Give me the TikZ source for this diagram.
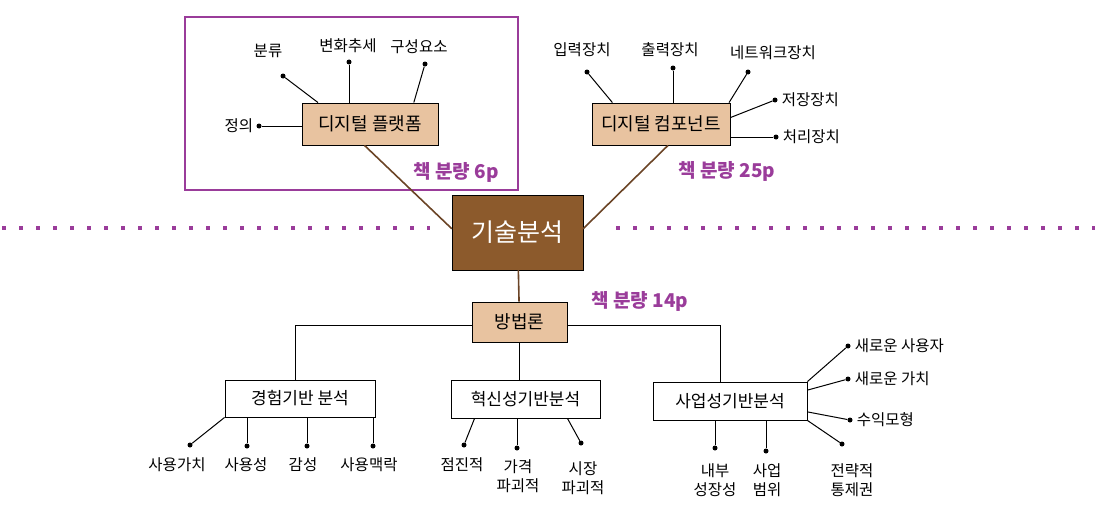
\documentclass[tikz,border=0pt]{standalone}
\usepackage{fontspec}
\setmainfont{Noto Sans CJK KR}
\usepackage{tikz}
\usetikzlibrary{arrows.meta,positioning,calc}
\definecolor{purp}{HTML}{9A3C9A}
\definecolor{bark}{HTML}{8C5A2C}
\definecolor{tan}{HTML}{E8C3A0}
\definecolor{twig}{HTML}{6B4426}

\begin{document}
\begin{tikzpicture}[x=1pt,y=-1pt, every node/.style={font=\fontsize{15.5}{19}\selectfont},
  top/.style={draw,fill=bark,text=white,minimum width=131pt,minimum height=75pt,font=\fontsize{25}{28}\selectfont},
  mid/.style={draw,fill=tan,line width=0.9pt,font=\fontsize{18}{20}\selectfont},
  low/.style={draw,fill=white,line width=0.9pt,font=\fontsize{17}{19}\selectfont},
  dot/.style={circle,fill,inner sep=0pt,minimum size=5pt},
  leaf/.style={align=center,inner sep=1pt},
  pages/.style={text=purp,font=\bfseries\fontsize{19}{22}\selectfont}]
\useasboundingbox (0,0) rectangle (1099,527);
% upper part, framed
\draw[purp,line width=2pt] (185,17) rectangle (518,190);
\draw[purp,line width=4pt,dash pattern=on 4pt off 13pt] (2,228) -- (430,228);
\draw[purp,line width=4pt,dash pattern=on 4pt off 13pt] (616,228) -- (1095,228);
\node[top] (core) at (517.5,232.5) {기술분석};
\node[mid,minimum width=136pt,minimum height=42pt] (plat) at (370,124) {디지털 플랫폼};
\node[mid,minimum width=138pt,minimum height=42pt] (comp) at (661,124) {디지털 컴포넌트};
\node[mid,minimum width=95pt,minimum height=40pt] (meth) at (519.5,322) {방법론};
\draw[twig,line width=1.6pt] ($(plat.south west)!0.46!(plat.south east)$) -- ($(core.north west)!0.45!(core.south west)$);
\draw[twig,line width=1.6pt] ($(comp.south west)!0.55!(comp.south east)$) -- ($(core.north east)!0.45!(core.south east)$);
\draw[twig,line width=1.6pt] (core) -- (meth);
\node[pages] (p6) at (456,172) {책 분량 6p};
\node[pages] (p25) at (727,171) {책 분량 25p};
\node[pages] (p14) at (640,301) {책 분량 14p};
% platform leaves
\node[dot] (d11) at (259,126) {};
\node[dot] (d12) at (283,76) {};
\node[dot] (d13) at (349,62) {};
\node[dot] (d14) at (425,64) {};
\node[leaf,left=2pt of d11] (l11) {정의};
\node[leaf] (l12) at (268,51) {분류};
\node[leaf] (l13) at (348,46) {변화추세};
\node[leaf] (l14) at (419,47) {구성요소};
\draw[line width=1pt] (d11) -- (d11 -| plat.west);
\draw[line width=1pt] (d12) -- ($(plat.north west)!0.12!(plat.north east)$);
\draw[line width=1pt] (d13) -- (d13 |- plat.north);
\draw[line width=1pt] (d14) -- ($(plat.north west)!0.82!(plat.north east)$);
% component leaves
\node[dot] (d21) at (587,72) {};
\node[dot] (d22) at (673,68) {};
\node[dot] (d23) at (748,72) {};
\node[dot] (d24) at (775,100) {};
\node[dot] (d25) at (776,137) {};
\node[leaf] (l21) at (582,50) {입력장치};
\node[leaf] (l22) at (670,50) {출력장치};
\node[leaf] (l23) at (773,53) {네트워크장치};
\node[leaf,right=3pt of d24] (l24) {저장장치};
\node[leaf,right=3pt of d25] (l25) {처리장치};
\draw[line width=1pt] (d21) -- ($(comp.north west)!0.15!(comp.north east)$);
\draw[line width=1pt] (d22) -- (d22 |- comp.north);
\draw[line width=1pt] (d23) -- ($(comp.north west)!0.99!(comp.north east)$);
\draw[line width=1pt] (d24) -- ($(comp.north east)!0.35!(comp.south east)$);
\draw[line width=1pt] (d25) -- (d25 -| comp.east);
% method branches
\node[low,minimum width=150pt,minimum height=37pt] (expe) at (300,398.5) {경험기반 분석};
\node[low,minimum width=149pt,minimum height=38pt] (inno) at (525.5,399) {혁신성기반분석};
\node[low,minimum width=154pt,minimum height=38pt] (biz) at (730,401) {사업성기반분석};
\coordinate (lj) at (295,325);
\coordinate (rj) at (720,325);
\draw[line width=1pt] (meth.west |- lj) -- (lj) -- (lj |- expe.north);
\draw[line width=1pt] (meth.east |- rj) -- (rj) -- (rj |- biz.north);
\draw[line width=1pt] (meth.south) -- (meth.south |- inno.north);
% experience leaves
\node[dot] (d31) at (190,445) {};
\node[dot] (d32) at (247,446) {};
\node[dot] (d33) at (307,446) {};
\node[dot] (d34) at (373,446) {};
\node[leaf] (l31) at (177,465) {사용가치};
\node[leaf] (l32) at (246,465) {사용성};
\node[leaf] (l33) at (303,465) {감성};
\node[leaf] (l34) at (369,465) {사용맥락};
\draw[line width=1pt] (d31) -- (expe.south west);
\draw[line width=1pt] (d32) -- (d32 |- expe.south);
\draw[line width=1pt] (d33) -- (d33 |- expe.south);
\draw[line width=1pt] (d34) -- (d34 |- expe.south);
% innovation leaves
\node[dot] (d41) at (464,445) {};
\node[dot] (d42) at (517,448) {};
\node[dot] (d43) at (581,443) {};
\node[leaf] (l41) at (462,465) {점진적};
\node[leaf] (l42) at (518,476) {가격\\파괴적};
\node[leaf] (l43) at (583,478) {시장\\파괴적};
\draw[line width=1pt] (d41) -- ($(inno.south west)!0.16!(inno.south east)$);
\draw[line width=1pt] (d42) -- (d42 |- inno.south);
\draw[line width=1pt] (d43) -- ($(inno.south west)!0.78!(inno.south east)$);
% business leaves
\node[dot] (d51) at (848,346) {};
\node[dot] (d52) at (848,379) {};
\node[dot] (d53) at (850,420) {};
\node[dot] (d54) at (842,444) {};
\node[dot] (d55) at (715,448) {};
\node[dot] (d56) at (766,451) {};
\node[leaf,right=3pt of d51] (l51) {새로운 사용자};
\node[leaf,right=3pt of d52] (l52) {새로운 가치};
\node[leaf,right=3pt of d53] (l53) {수익모형};
\node[leaf] (l54) at (852,480) {전략적\\통제권};
\node[leaf] (l55) at (715,480) {내부\\성장성};
\node[leaf] (l56) at (767,480) {사업\\범위};
\draw[line width=1pt] (d51) -- (biz.north east);
\draw[line width=1pt] (d52) -- ($(biz.north east)!0.22!(biz.south east)$);
\draw[line width=1pt] (d53) -- ($(biz.north east)!0.78!(biz.south east)$);
\draw[line width=1pt] (d54) -- (biz.south east);
\draw[line width=1pt] (d55) -- (d55 |- biz.south);
\draw[line width=1pt] (d56) -- (d56 |- biz.south);
\end{tikzpicture}
\end{document}
